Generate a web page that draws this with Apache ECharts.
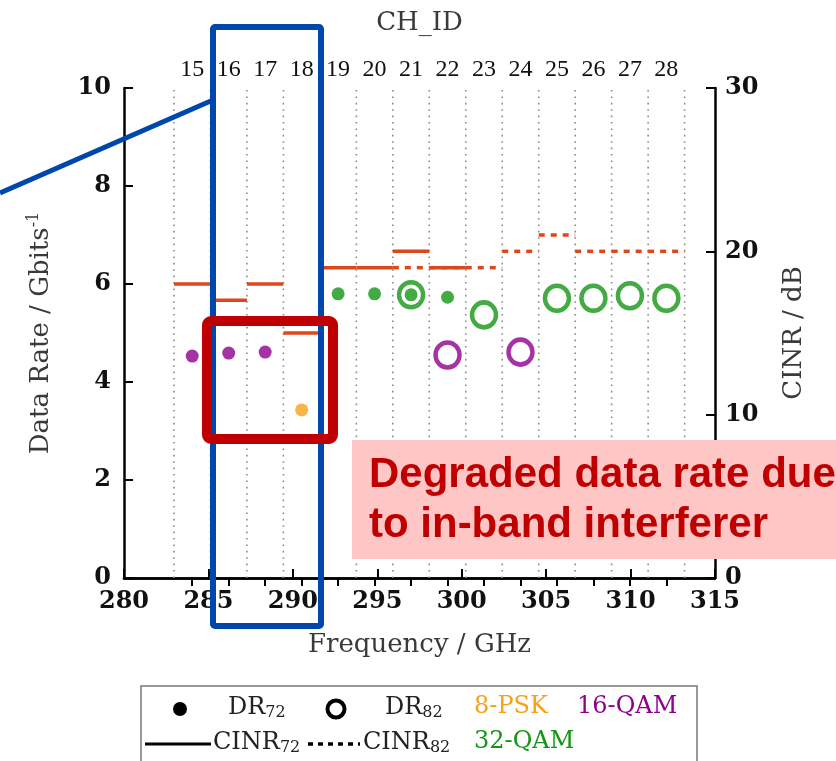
<!DOCTYPE html>
<html><head><meta charset="utf-8">
<script src="https://cdn.jsdelivr.net/npm/echarts@6/dist/echarts.min.js"></script>
<style>html,body{margin:0;padding:0;background:#fff}#c{width:836px;height:761px}</style>
</head><body><div id="c"></div>
<script>
// ---- data ----
const chIds = [15,16,17,18,19,20,21,22,23,24,25,26,27,28];
const freqTicks = [280,285,290,295,300,305,310,315];
const chDR72 = [15,16,17,18,19,20,21,22];
const dr72 = [4.53,4.59,4.61,3.43,5.80,5.80,5.78,5.73];
const mod72 = ['16-QAM','16-QAM','16-QAM','8-PSK','32-QAM','32-QAM','32-QAM','32-QAM'];
const chDR82 = [21,22,23,24,25,26,27,28];
const dr82 = [5.78,4.55,5.37,4.61,5.71,5.71,5.76,5.71];
const mod82 = ['32-QAM','16-QAM','32-QAM','16-QAM','32-QAM','32-QAM','32-QAM','32-QAM'];
const chCINR72 = [15,16,17,18,19,20,21,22];
const cinr72 = [18,17,18,15,19,19,20,19];
const chCINR82 = [21,22,23,24,25,26,27,28];
const cinr82 = [19,19,19,20,21,20,20,20];
// IEEE 802.15.3d channel plan (2.16 GHz channels starting at 252.72 GHz)
const planStart = 252.72, planWidth = 2.16;
const fMin = 280, fMax = 315;

const modColors = {'8-PSK':'#f7a11a','16-QAM':'#900090','32-QAM':'#159515'};
const cinrColor = '#de461c';
const serif = 'Liberation Serif';
const dserif = 'DejaVu Serif';
const toCh = f => (f - planStart) / planWidth + 0.5;

const chart = echarts.init(document.getElementById('c'));

function segItem(dash){
  return function(params, api){
    const c = api.value(0), v = api.value(1);
    const p1 = api.coord([c - 0.5, v]), p2 = api.coord([c + 0.5, v]);
    return {type:'line', shape:{x1:p1[0], y1:p1[1], x2:p2[0], y2:p2[1]},
      style:{stroke:cinrColor, lineWidth:3.5, lineDash: dash, fill:null}};
  };
}

const boundaries = chIds.map(c => c - 0.5).concat([chIds[chIds.length-1] + 0.5]);

const axisLineStyle = {color:'#000', width:2.5};
const tickStyle = {color:'#000', width:2};
const boldLabel = {color:'#111', fontFamily:dserif, fontWeight:'bold', fontSize:24};
const nameStyle = {fontFamily:dserif, fontSize:26, color:'#3a3a3a'};
const legFont = '24px "DejaVu Serif"';
const subRich = {s:{fontFamily:dserif, fontSize:16, fill:'#222', padding:[10,0,0,0]}};

chart.setOption({
  animation:false,
  grid:{left:124, right:121, top:88, bottom:183, outerBoundsMode:'none'},
  xAxis:[
    {type:'value', position:'bottom', min:fMin, max:fMax, interval:5,
     axisLine:{show:true, lineStyle:axisLineStyle},
     axisTick:{show:true, inside:true, length:9, lineStyle:tickStyle},
     axisLabel:Object.assign({show:true, margin:12, customValues: freqTicks}, boldLabel),
     splitLine:{show:false},
     name:'Frequency / GHz', nameLocation:'middle', nameGap:54, nameTextStyle:nameStyle},
    {type:'value', position:'top', min:toCh(fMin), max:toCh(fMax),
     axisLine:{show:true, lineStyle:axisLineStyle},
     axisTick:{show:true, inside:true, length:8, lineStyle:tickStyle, customValues: chIds},
     axisLabel:{show:true, margin:6, color:'#111', fontFamily:serif, fontSize:24,
       customValues: chIds, formatter: v => String(Math.round(v))},
     splitLine:{show:false},
     name:'CH_ID', nameLocation:'middle', nameGap:52, nameTextStyle:nameStyle}
  ],
  yAxis:[
    {type:'value', position:'left', min:0, max:10, interval:2,
     axisLine:{show:true, lineStyle:axisLineStyle},
     axisTick:{show:true, inside:true, length:9, lineStyle:tickStyle},
     axisLabel:Object.assign({show:true, margin:13}, boldLabel),
     splitLine:{show:false},
     name:'Data Rate / Gbits{sup|-1}', nameLocation:'middle', nameGap:68, nameRotate:90,
     nameTextStyle:Object.assign({rich:{sup:{fontFamily:dserif, fontSize:16, color:'#3a3a3a', padding:[0,0,14,0]}}}, nameStyle)},
    {type:'value', position:'right', min:0, max:30, interval:10,
     axisLine:{show:true, lineStyle:axisLineStyle},
     axisTick:{show:true, inside:true, length:9, lineStyle:tickStyle},
     axisLabel:Object.assign({show:true, margin:10}, boldLabel),
     splitLine:{show:false},
     name:'CINR / dB', nameLocation:'middle', nameGap:66, nameRotate:90, nameTextStyle:nameStyle}
  ],
  series:[
    {type:'custom', xAxisIndex:1, yAxisIndex:0, silent:true, z:1,
     data: boundaries.map(b => [b]),
     renderItem:(params, api) => {
       const b = api.value(0);
       const p1 = api.coord([b, 0]), p2 = api.coord([b, 10]);
       return {type:'line', shape:{x1:p1[0], y1:p1[1], x2:p2[0], y2:p2[1]},
         style:{stroke:'#8a8a8a', lineWidth:1.6, lineDash:[1.6,4.8], fill:null}};
     }},
    {type:'custom', name:'CINR82', xAxisIndex:1, yAxisIndex:1, z:2,
     data: chCINR82.map((c,i) => [c, cinr82[i]]), renderItem: segItem([6,6])},
    {type:'custom', name:'CINR72', xAxisIndex:1, yAxisIndex:1, z:3,
     data: chCINR72.map((c,i) => [c, cinr72[i]]), renderItem: segItem(null)},
    {type:'scatter', name:'DR82', xAxisIndex:1, yAxisIndex:0, z:4, symbol:'circle', symbolSize:[24,25],
     data: chDR82.map((c,i) => ({value:[c, dr82[i]],
       itemStyle:{color:'rgba(255,255,255,0)', borderColor:modColors[mod82[i]], borderWidth:4.5}}))},
    {type:'scatter', name:'DR72', xAxisIndex:1, yAxisIndex:0, z:5, symbol:'circle', symbolSize:[13,13],
     data: chDR72.map((c,i) => ({value:[c, dr72[i]], itemStyle:{color:modColors[mod72[i]]}}))}
  ],
  graphic:[
    // legend box
    {type:'rect', z:50, shape:{x:141, y:686, width:556, height:100}, style:{fill:'#fff', stroke:'#777', lineWidth:1.5}},
    {type:'circle', z:51, shape:{cx:180, cy:709, r:7}, style:{fill:'#000'}},
    {type:'text', z:51, x:228, y:695, style:{text:'DR{s|72}', font:legFont, fill:'#222', rich:subRich}},
    {type:'circle', z:51, shape:{cx:336, cy:709, r:8.5}, style:{fill:'none', stroke:'#000', lineWidth:4}},
    {type:'text', z:51, x:385, y:695, style:{text:'DR{s|82}', font:legFont, fill:'#222', rich:subRich}},
    {type:'text', z:51, x:474, y:695, style:{text:'8-PSK', font:legFont, fill:modColors['8-PSK']}},
    {type:'text', z:51, x:577, y:695, style:{text:'16-QAM', font:legFont, fill:modColors['16-QAM']}},
    {type:'line', z:51, shape:{x1:145, y1:744, x2:211, y2:744}, style:{stroke:'#000', lineWidth:3}},
    {type:'text', z:51, x:213, y:730, style:{text:'CINR{s|72}', font:legFont, fill:'#222', rich:subRich}},
    {type:'line', z:51, shape:{x1:308, y1:744, x2:360, y2:744}, style:{stroke:'#000', lineWidth:3.5, lineDash:[5,5]}},
    {type:'text', z:51, x:363, y:730, style:{text:'CINR{s|82}', font:legFont, fill:'#222', rich:subRich}},
    {type:'text', z:51, x:474, y:730, style:{text:'32-QAM', font:legFont, fill:modColors['32-QAM']}},
    // annotations
    {type:'line', z:100, shape:{x1:0, y1:193, x2:213, y2:100}, style:{stroke:'#0047ab', lineWidth:5}},
    {type:'rect', z:100, shape:{x:213, y:27, width:108, height:599, r:2}, style:{fill:'none', stroke:'#0047ab', lineWidth:6}},
    {type:'rect', z:101, shape:{x:207, y:321, width:126, height:118, r:4}, style:{fill:'none', stroke:'#c00000', lineWidth:10}},
    {type:'rect', z:102, shape:{x:352, y:440, width:484, height:119}, style:{fill:'#ffc6c6'}},
    {type:'text', z:103, x:369, y:450, style:{text:'Degraded data rate due\nto in-band interferer',
      font:'bold 42px "Liberation Sans"', fill:'#c00000', lineHeight:50}}
  ]
});
</script></body></html>
